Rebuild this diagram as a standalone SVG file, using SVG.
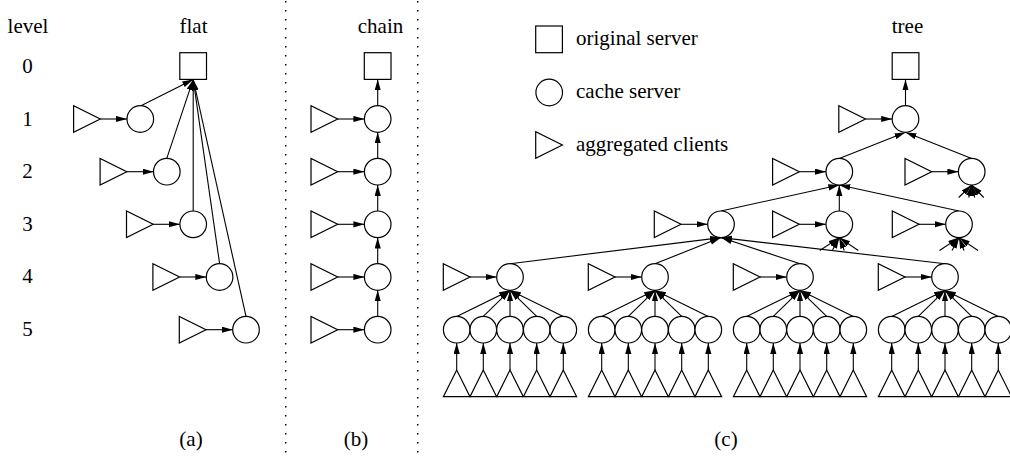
<svg xmlns="http://www.w3.org/2000/svg" width="1010" height="459" viewBox="0 0 1010 459">
<style>
.n{fill:#fff;stroke:#000;stroke-width:1.2}
.e{fill:none;stroke:#000;stroke-width:1.1;marker-end:url(#ah)}
.t{font-family:"Liberation Serif","Times New Roman",serif;font-size:21px;fill:#000}
.m{text-anchor:middle}
.dot{stroke:#000;stroke-width:1.5;stroke-dasharray:1.5 7.5;fill:none}
</style>
<defs>
<marker id="ah" markerUnits="userSpaceOnUse" markerWidth="12" markerHeight="8" refX="11" refY="3.1" orient="auto">
<path d="M0,0 L11,3.1 L0,6.2 z" fill="#000"/>
</marker>
</defs>
<rect width="1010" height="459" fill="#fff"/>
<g id="separators">
<line class="dot" x1="285.7" y1="1" x2="285.7" y2="459"/>
<line class="dot" x1="417.7" y1="1" x2="417.7" y2="459"/>
</g>
<g id="labels" class="t">
<text x="28" y="33" class="m">level</text>
<text x="27.5" y="73" class="m">0</text>
<text x="27.5" y="126" class="m">1</text>
<text x="27.5" y="178" class="m">2</text>
<text x="27.5" y="231" class="m">3</text>
<text x="27.5" y="283" class="m">4</text>
<text x="27.5" y="336" class="m">5</text>
<text x="193.5" y="33" class="m">flat</text>
<text x="380.5" y="33" class="m">chain</text>
<text x="907.5" y="33" class="m">tree</text>
<text x="191" y="446" class="m">(a)</text>
<text x="356" y="446" class="m">(b)</text>
<text x="726" y="446" class="m">(c)</text>
</g>
<g id="legend">
<g id="legend-original"><rect class="n" x="535.7" y="26" width="26.7" height="26.7"/><text class="t" x="576" y="45">original server</text></g>
<g id="legend-cache"><circle class="n" cx="549.2" cy="92.5" r="13.3"/><text class="t" x="576" y="98">cache server</text></g>
<g id="legend-clients"><polygon class="n" points="535.7,131.7 535.7,158.3 562.4,145"/><text class="t" x="576" y="151">aggregated clients</text></g>
</g>
<g id="connectors">
<!-- flat -->
<path class="e" d="M100.3,119H127"/>
<path class="e" d="M126.8,171.7H153.5"/>
<path class="e" d="M153.2,224.3H179.9"/>
<path class="e" d="M179.6,277H206.3"/>
<path class="e" d="M206,329.7H232.7"/>
<path class="e" d="M141,105.7L193.2,79.4"/>
<path class="e" d="M166.8,158.4L193.2,79.4"/>
<path class="e" d="M193.2,211V79.4"/>
<path class="e" d="M219.6,263.7L193.2,79.4"/>
<path class="e" d="M246,316.4L193.2,79.4"/>
<!-- chain -->
<path class="e" d="M337.7,119H364.4"/>
<path class="e" d="M337.7,171.7H364.4"/>
<path class="e" d="M337.7,224.3H364.4"/>
<path class="e" d="M337.7,277H364.4"/>
<path class="e" d="M337.7,329.7H364.4"/>
<path class="e" d="M377.7,105.7V79.4"/>
<path class="e" d="M377.7,158.4V132.3"/>
<path class="e" d="M377.7,211V185"/>
<path class="e" d="M377.7,263.7V237.6"/>
<path class="e" d="M377.7,316.4V290.3"/>
<!-- tree upper -->
<path class="e" d="M905.5,105.7V79.4"/>
<path class="e" d="M865.5,119H892.2"/>
<path class="e" d="M799.3,171.7H826"/>
<path class="e" d="M931.7,171.7H958.4"/>
<path class="e" d="M839.3,158.4L905.5,132.3"/>
<path class="e" d="M971.7,158.4L905.5,132.3"/>
<path class="e" d="M681,224.3H707.7"/>
<path class="e" d="M799.3,224.3H826"/>
<path class="e" d="M919,224.3H945.7"/>
<path class="e" d="M721,211L839.3,185"/>
<path class="e" d="M839.3,211V185"/>
<path class="e" d="M959,211L839.3,185"/>
<path class="e" d="M470,277H496.7"/>
<path class="e" d="M615,277H641.7"/>
<path class="e" d="M760,277H786.7"/>
<path class="e" d="M905,277H931.7"/>
<path class="e" d="M510,263.7L721,237.6"/>
<path class="e" d="M655,263.7L721,237.6"/>
<path class="e" d="M800,263.7L721,237.6"/>
<path class="e" d="M945,263.7L721,237.6"/>
<!-- stubs -->
<path class="e" d="M958.7,197.5L971.7,185"/>
<path class="e" d="M968.7,197.5L971.7,185"/>
<path class="e" d="M974.7,197.5L971.7,185"/>
<path class="e" d="M983.7,197.5L971.7,185"/>
<path class="e" d="M819.8,250.5L839.3,237.6"/>
<path class="e" d="M832.3,250.5L839.3,237.6"/>
<path class="e" d="M844.3,250.5L839.3,237.6"/>
<path class="e" d="M858.3,250.5L839.3,237.6"/>
<path class="e" d="M939.5,250.5L959,237.6"/>
<path class="e" d="M952,250.5L959,237.6"/>
<path class="e" d="M964,250.5L959,237.6"/>
<path class="e" d="M978,250.5L959,237.6"/>
<!-- level 5 to level 4 -->
<path class="e" d="M456.7,316.4L510,290.3"/>
<path class="e" d="M483.3,316.4L510,290.3"/>
<path class="e" d="M510,316.4V290.3"/>
<path class="e" d="M536.7,316.4L510,290.3"/>
<path class="e" d="M563.3,316.4L510,290.3"/>
<path class="e" d="M601.7,316.4L655,290.3"/>
<path class="e" d="M628.3,316.4L655,290.3"/>
<path class="e" d="M655,316.4V290.3"/>
<path class="e" d="M681.7,316.4L655,290.3"/>
<path class="e" d="M708.3,316.4L655,290.3"/>
<path class="e" d="M746.7,316.4L800,290.3"/>
<path class="e" d="M773.3,316.4L800,290.3"/>
<path class="e" d="M800,316.4V290.3"/>
<path class="e" d="M826.7,316.4L800,290.3"/>
<path class="e" d="M853.3,316.4L800,290.3"/>
<path class="e" d="M891.7,316.4L945,290.3"/>
<path class="e" d="M918.3,316.4L945,290.3"/>
<path class="e" d="M945,316.4V290.3"/>
<path class="e" d="M971.7,316.4L945,290.3"/>
<path class="e" d="M998.3,316.4L945,290.3"/>
<!-- clients to level 5 -->
<path class="e" d="M456.7,370V343"/>
<path class="e" d="M483.3,370V343"/>
<path class="e" d="M510,370V343"/>
<path class="e" d="M536.7,370V343"/>
<path class="e" d="M563.3,370V343"/>
<path class="e" d="M601.7,370V343"/>
<path class="e" d="M628.3,370V343"/>
<path class="e" d="M655,370V343"/>
<path class="e" d="M681.7,370V343"/>
<path class="e" d="M708.3,370V343"/>
<path class="e" d="M746.7,370V343"/>
<path class="e" d="M773.3,370V343"/>
<path class="e" d="M800,370V343"/>
<path class="e" d="M826.7,370V343"/>
<path class="e" d="M853.3,370V343"/>
<path class="e" d="M891.7,370V343"/>
<path class="e" d="M918.3,370V343"/>
<path class="e" d="M945,370V343"/>
<path class="e" d="M971.7,370V343"/>
<path class="e" d="M998.3,370V343"/>
</g>
<g id="flat">
<g id="flat-origin"><rect class="n" x="179.8" y="52.7" width="26.7" height="26.7"/></g>
<g id="flat-c1"><circle class="n" cx="140.3" cy="119" r="13.3"/><polygon class="n" points="73.6,105.7 73.6,132.3 100.3,119"/></g>
<g id="flat-c2"><circle class="n" cx="166.8" cy="171.7" r="13.3"/><polygon class="n" points="100.1,158.4 100.1,185 126.8,171.7"/></g>
<g id="flat-c3"><circle class="n" cx="193.2" cy="224.3" r="13.3"/><polygon class="n" points="126.5,211 126.5,237.6 153.2,224.3"/></g>
<g id="flat-c4"><circle class="n" cx="219.6" cy="277" r="13.3"/><polygon class="n" points="152.9,263.7 152.9,290.3 179.6,277"/></g>
<g id="flat-c5"><circle class="n" cx="246" cy="329.7" r="13.3"/><polygon class="n" points="179.3,316.4 179.3,343 206,329.7"/></g>
</g>
<g id="chain">
<g id="chain-origin"><rect class="n" x="364.3" y="52.7" width="26.7" height="26.7"/></g>
<g id="chain-c1"><circle class="n" cx="377.7" cy="119" r="13.3"/><polygon class="n" points="311,105.7 311,132.3 337.7,119"/></g>
<g id="chain-c2"><circle class="n" cx="377.7" cy="171.7" r="13.3"/><polygon class="n" points="311,158.4 311,185 337.7,171.7"/></g>
<g id="chain-c3"><circle class="n" cx="377.7" cy="224.3" r="13.3"/><polygon class="n" points="311,211 311,237.6 337.7,224.3"/></g>
<g id="chain-c4"><circle class="n" cx="377.7" cy="277" r="13.3"/><polygon class="n" points="311,263.7 311,290.3 337.7,277"/></g>
<g id="chain-c5"><circle class="n" cx="377.7" cy="329.7" r="13.3"/><polygon class="n" points="311,316.4 311,343 337.7,329.7"/></g>
</g>
<g id="tree">
<g id="tree-origin"><rect class="n" x="892.2" y="52.7" width="26.7" height="26.7"/></g>
<g id="tree-l1"><circle class="n" cx="905.5" cy="119" r="13.3"/><polygon class="n" points="838.8,105.7 838.8,132.3 865.5,119"/></g>
<g id="tree-l2a"><circle class="n" cx="839.3" cy="171.7" r="13.3"/><polygon class="n" points="772.6,158.4 772.6,185 799.3,171.7"/></g>
<g id="tree-l2b"><circle class="n" cx="971.7" cy="171.7" r="13.3"/><polygon class="n" points="905,158.4 905,185 931.7,171.7"/></g>
<g id="tree-l3a"><circle class="n" cx="721" cy="224.3" r="13.3"/><polygon class="n" points="654.3,211 654.3,237.6 681,224.3"/></g>
<g id="tree-l3b"><circle class="n" cx="839.3" cy="224.3" r="13.3"/><polygon class="n" points="772.6,211 772.6,237.6 799.3,224.3"/></g>
<g id="tree-l3c"><circle class="n" cx="959" cy="224.3" r="13.3"/><polygon class="n" points="892.3,211 892.3,237.6 919,224.3"/></g>
<g id="tree-l4a"><circle class="n" cx="510" cy="277" r="13.3"/><polygon class="n" points="443.3,263.7 443.3,290.3 470,277"/></g>
<g id="tree-l4b"><circle class="n" cx="655" cy="277" r="13.3"/><polygon class="n" points="588.3,263.7 588.3,290.3 615,277"/></g>
<g id="tree-l4c"><circle class="n" cx="800" cy="277" r="13.3"/><polygon class="n" points="733.3,263.7 733.3,290.3 760,277"/></g>
<g id="tree-l4d"><circle class="n" cx="945" cy="277" r="13.3"/><polygon class="n" points="878.3,263.7 878.3,290.3 905,277"/></g>
<g id="tree-l5">
<g id="t5-1"><circle class="n" cx="456.7" cy="329.7" r="13.3"/><polygon class="n" points="456.7,370 443.4,396.7 470,396.7"/></g>
<g id="t5-2"><circle class="n" cx="483.3" cy="329.7" r="13.3"/><polygon class="n" points="483.3,370 470,396.7 496.6,396.7"/></g>
<g id="t5-3"><circle class="n" cx="510" cy="329.7" r="13.3"/><polygon class="n" points="510,370 496.7,396.7 523.3,396.7"/></g>
<g id="t5-4"><circle class="n" cx="536.7" cy="329.7" r="13.3"/><polygon class="n" points="536.7,370 523.4,396.7 550,396.7"/></g>
<g id="t5-5"><circle class="n" cx="563.3" cy="329.7" r="13.3"/><polygon class="n" points="563.3,370 550,396.7 576.6,396.7"/></g>
<g id="t5-6"><circle class="n" cx="601.7" cy="329.7" r="13.3"/><polygon class="n" points="601.7,370 588.4,396.7 615,396.7"/></g>
<g id="t5-7"><circle class="n" cx="628.3" cy="329.7" r="13.3"/><polygon class="n" points="628.3,370 615,396.7 641.6,396.7"/></g>
<g id="t5-8"><circle class="n" cx="655" cy="329.7" r="13.3"/><polygon class="n" points="655,370 641.7,396.7 668.3,396.7"/></g>
<g id="t5-9"><circle class="n" cx="681.7" cy="329.7" r="13.3"/><polygon class="n" points="681.7,370 668.4,396.7 695,396.7"/></g>
<g id="t5-10"><circle class="n" cx="708.3" cy="329.7" r="13.3"/><polygon class="n" points="708.3,370 695,396.7 721.6,396.7"/></g>
<g id="t5-11"><circle class="n" cx="746.7" cy="329.7" r="13.3"/><polygon class="n" points="746.7,370 733.4,396.7 760,396.7"/></g>
<g id="t5-12"><circle class="n" cx="773.3" cy="329.7" r="13.3"/><polygon class="n" points="773.3,370 760,396.7 786.6,396.7"/></g>
<g id="t5-13"><circle class="n" cx="800" cy="329.7" r="13.3"/><polygon class="n" points="800,370 786.7,396.7 813.3,396.7"/></g>
<g id="t5-14"><circle class="n" cx="826.7" cy="329.7" r="13.3"/><polygon class="n" points="826.7,370 813.4,396.7 840,396.7"/></g>
<g id="t5-15"><circle class="n" cx="853.3" cy="329.7" r="13.3"/><polygon class="n" points="853.3,370 840,396.7 866.6,396.7"/></g>
<g id="t5-16"><circle class="n" cx="891.7" cy="329.7" r="13.3"/><polygon class="n" points="891.7,370 878.4,396.7 905,396.7"/></g>
<g id="t5-17"><circle class="n" cx="918.3" cy="329.7" r="13.3"/><polygon class="n" points="918.3,370 905,396.7 931.6,396.7"/></g>
<g id="t5-18"><circle class="n" cx="945" cy="329.7" r="13.3"/><polygon class="n" points="945,370 931.7,396.7 958.3,396.7"/></g>
<g id="t5-19"><circle class="n" cx="971.7" cy="329.7" r="13.3"/><polygon class="n" points="971.7,370 958.4,396.7 985,396.7"/></g>
<g id="t5-20"><circle class="n" cx="998.3" cy="329.7" r="13.3"/><polygon class="n" points="998.3,370 985,396.7 1011.6,396.7"/></g>
</g>
</g>
</svg>
